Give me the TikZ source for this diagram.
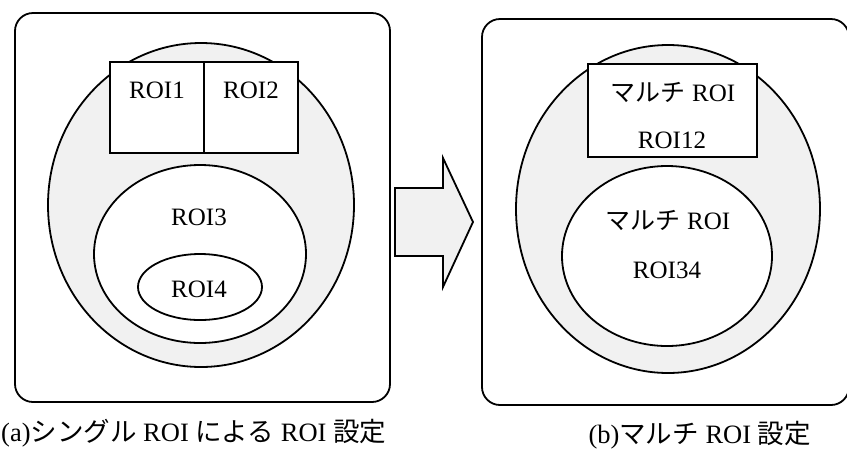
\documentclass[tikz,border=0pt]{standalone}
\usepackage{fontspec}
\setmainfont{Liberation Serif}
\newfontfamily\cjk{Noto Sans CJK JP}
\usetikzlibrary{shapes.geometric}
\tikzset{
  ln/.style={draw=black, line width=1.8pt},
  panel/.style={ln, rectangle, rounded corners=18pt, inner sep=0pt, fill=white},
  bigell/.style={ln, ellipse, inner sep=0pt, fill=gray!11},
  roiell/.style={ln, ellipse, inner sep=0pt, fill=white},
  roibox/.style={ln, rectangle, inner sep=0pt, fill=white},
  lbl/.style={inner sep=0pt, font=\fontsize{25}{29}\selectfont},
  captext/.style={inner sep=0pt, font=\fontsize{26.5}{31}\selectfont},
  arrowshape/.style={ln, fill=gray!11, line join=miter}
}
\begin{document}
\begin{tikzpicture}[x=1pt,y=-1pt]
\useasboundingbox (0,0) rectangle (847,451);
% ---------- panel (a)
\node[panel, minimum width=375pt, minimum height=389pt] (pa) at (202.5,207.5) {};
\node[bigell, minimum width=306pt, minimum height=324pt] (ea) at (201,205) {};
\node[roibox, minimum width=94pt, minimum height=91pt] (r1) at (157,107.5) {};
\node[roibox, minimum width=94pt, minimum height=91pt] (r2) at (251,107.5) {};
\node[roiell, minimum width=212pt, minimum height=178pt] (r3) at (200,254) {};
\node[roiell, minimum width=124pt, minimum height=66pt] (r4) at (200,287) {};
\node[lbl] (t1) at (157,90) {ROI1};
\node[lbl] (t2) at (251,90) {ROI2};
\node[lbl] (t3) at (199,217) {ROI3};
\node[lbl] (t4) at (199,289) {ROI4};
% ---------- arrow
\coordinate (a1) at (395,188);
\coordinate (a2) at (443,188);
\coordinate (a3) at (443,158);
\coordinate (a4) at (473,222);
\coordinate (a5) at (443,287);
\coordinate (a6) at (443,256);
\coordinate (a7) at (395,256);
\draw[arrowshape] (a1) -- (a2) -- (a3) -- (a4) -- (a5) -- (a6) -- (a7) -- cycle;
% ---------- panel (b)
\node[panel, minimum width=367pt, minimum height=386pt] (pb) at (665.5,212) {};
\node[bigell, minimum width=304pt, minimum height=328pt] (eb) at (668,209) {};
\node[roibox, minimum width=169pt, minimum height=93pt] (r12) at (672.5,110.5) {};
\node[roiell, minimum width=210pt, minimum height=180pt] (r34) at (667,256) {};
\node[lbl] (m1) at (673,92) {{\cjk マルチ} ROI};
\node[lbl] (t12) at (672,140) {ROI12};
\node[lbl] (m2) at (668,220) {{\cjk マルチ} ROI};
\node[lbl] (t34) at (667,270) {ROI34};
% ---------- captions
\node[captext, anchor=west] (ca) at (1,433) {(a){\cjk シングル} ROI {\cjk による} ROI {\cjk 設定}};
\node[captext, anchor=east] (cb) at (811,435) {(b){\cjk マルチ} ROI {\cjk 設定}};
\end{tikzpicture}
\end{document}
